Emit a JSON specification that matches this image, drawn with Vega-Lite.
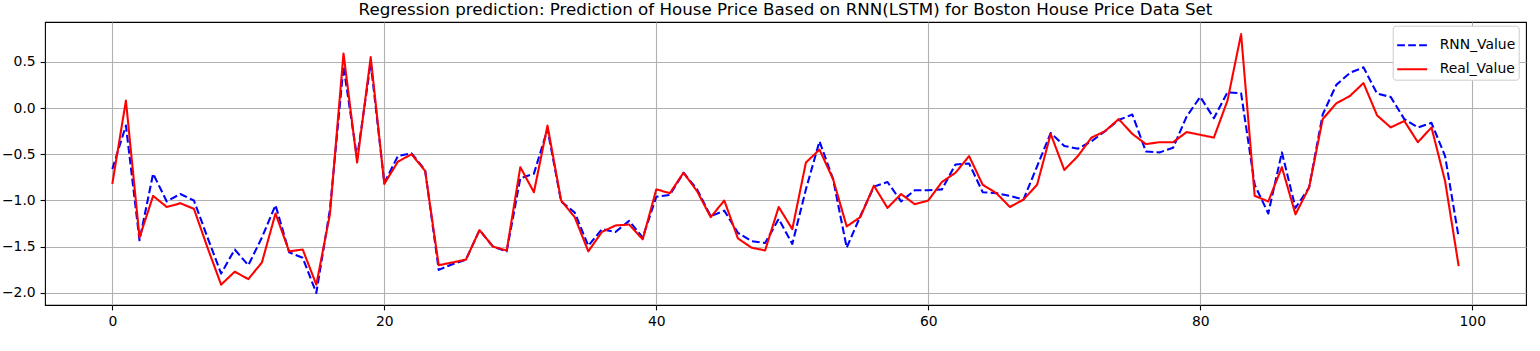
{
  "$schema": "https://vega.github.io/schema/vega-lite/v6.json",
  "autosize": {"type": "none"},
  "padding": {"left": 45, "top": 22, "right": 14, "bottom": 46},
  "width": 1481,
  "height": 283,
  "title": {
    "text": "Regression prediction: Prediction of House Price Based on RNN(LSTM) for Boston House Price Data Set",
    "font": "DejaVu Sans",
    "fontSize": 16.7,
    "fontWeight": "normal",
    "color": "black",
    "anchor": "middle",
    "offset": 3
  },
  "data": {"values": [
    {"i":0,"series":"RNN_Value","value":-0.66},{"i":0,"series":"Real_Value","value":-0.82},
    {"i":1,"series":"RNN_Value","value":-0.19},{"i":1,"series":"Real_Value","value":0.08},
    {"i":2,"series":"RNN_Value","value":-1.43},{"i":2,"series":"Real_Value","value":-1.40},
    {"i":3,"series":"RNN_Value","value":-0.71},{"i":3,"series":"Real_Value","value":-0.95},
    {"i":4,"series":"RNN_Value","value":-1.01},{"i":4,"series":"Real_Value","value":-1.07},
    {"i":5,"series":"RNN_Value","value":-0.93},{"i":5,"series":"Real_Value","value":-1.03},
    {"i":6,"series":"RNN_Value","value":-1.00},{"i":6,"series":"Real_Value","value":-1.09},
    {"i":7,"series":"RNN_Value","value":-1.40},{"i":7,"series":"Real_Value","value":-1.51},
    {"i":8,"series":"RNN_Value","value":-1.79},{"i":8,"series":"Real_Value","value":-1.91},
    {"i":9,"series":"RNN_Value","value":-1.53},{"i":9,"series":"Real_Value","value":-1.77},
    {"i":10,"series":"RNN_Value","value":-1.70},{"i":10,"series":"Real_Value","value":-1.85},
    {"i":11,"series":"RNN_Value","value":-1.40},{"i":11,"series":"Real_Value","value":-1.67},
    {"i":12,"series":"RNN_Value","value":-1.05},{"i":12,"series":"Real_Value","value":-1.14},
    {"i":13,"series":"RNN_Value","value":-1.56},{"i":13,"series":"Real_Value","value":-1.55},
    {"i":14,"series":"RNN_Value","value":-1.62},{"i":14,"series":"Real_Value","value":-1.53},
    {"i":15,"series":"RNN_Value","value":-2.00},{"i":15,"series":"Real_Value","value":-1.91},
    {"i":16,"series":"RNN_Value","value":-1.10},{"i":16,"series":"Real_Value","value":-1.15},
    {"i":17,"series":"RNN_Value","value":0.45},{"i":17,"series":"Real_Value","value":0.59},
    {"i":18,"series":"RNN_Value","value":-0.54},{"i":18,"series":"Real_Value","value":-0.59},
    {"i":19,"series":"RNN_Value","value":0.49},{"i":19,"series":"Real_Value","value":0.55},
    {"i":20,"series":"RNN_Value","value":-0.81},{"i":20,"series":"Real_Value","value":-0.82},
    {"i":21,"series":"RNN_Value","value":-0.52},{"i":21,"series":"Real_Value","value":-0.58},
    {"i":22,"series":"RNN_Value","value":-0.49},{"i":22,"series":"Real_Value","value":-0.50},
    {"i":23,"series":"RNN_Value","value":-0.67},{"i":23,"series":"Real_Value","value":-0.68},
    {"i":24,"series":"RNN_Value","value":-1.75},{"i":24,"series":"Real_Value","value":-1.70},
    {"i":25,"series":"RNN_Value","value":-1.69},{"i":25,"series":"Real_Value","value":-1.67},
    {"i":26,"series":"RNN_Value","value":-1.64},{"i":26,"series":"Real_Value","value":-1.64},
    {"i":27,"series":"RNN_Value","value":-1.32},{"i":27,"series":"Real_Value","value":-1.32},
    {"i":28,"series":"RNN_Value","value":-1.50},{"i":28,"series":"Real_Value","value":-1.50},
    {"i":29,"series":"RNN_Value","value":-1.55},{"i":29,"series":"Real_Value","value":-1.54},
    {"i":30,"series":"RNN_Value","value":-0.76},{"i":30,"series":"Real_Value","value":-0.64},
    {"i":31,"series":"RNN_Value","value":-0.71},{"i":31,"series":"Real_Value","value":-0.91},
    {"i":32,"series":"RNN_Value","value":-0.23},{"i":32,"series":"Real_Value","value":-0.19},
    {"i":33,"series":"RNN_Value","value":-1.01},{"i":33,"series":"Real_Value","value":-1.00},
    {"i":34,"series":"RNN_Value","value":-1.13},{"i":34,"series":"Real_Value","value":-1.18},
    {"i":35,"series":"RNN_Value","value":-1.49},{"i":35,"series":"Real_Value","value":-1.55},
    {"i":36,"series":"RNN_Value","value":-1.31},{"i":36,"series":"Real_Value","value":-1.34},
    {"i":37,"series":"RNN_Value","value":-1.34},{"i":37,"series":"Real_Value","value":-1.27},
    {"i":38,"series":"RNN_Value","value":-1.22},{"i":38,"series":"Real_Value","value":-1.26},
    {"i":39,"series":"RNN_Value","value":-1.40},{"i":39,"series":"Real_Value","value":-1.42},
    {"i":40,"series":"RNN_Value","value":-0.96},{"i":40,"series":"Real_Value","value":-0.88},
    {"i":41,"series":"RNN_Value","value":-0.94},{"i":41,"series":"Real_Value","value":-0.92},
    {"i":42,"series":"RNN_Value","value":-0.70},{"i":42,"series":"Real_Value","value":-0.70},
    {"i":43,"series":"RNN_Value","value":-0.88},{"i":43,"series":"Real_Value","value":-0.90},
    {"i":44,"series":"RNN_Value","value":-1.17},{"i":44,"series":"Real_Value","value":-1.18},
    {"i":45,"series":"RNN_Value","value":-1.11},{"i":45,"series":"Real_Value","value":-1.00},
    {"i":46,"series":"RNN_Value","value":-1.35},{"i":46,"series":"Real_Value","value":-1.41},
    {"i":47,"series":"RNN_Value","value":-1.44},{"i":47,"series":"Real_Value","value":-1.51},
    {"i":48,"series":"RNN_Value","value":-1.46},{"i":48,"series":"Real_Value","value":-1.54},
    {"i":49,"series":"RNN_Value","value":-1.20},{"i":49,"series":"Real_Value","value":-1.07},
    {"i":50,"series":"RNN_Value","value":-1.47},{"i":50,"series":"Real_Value","value":-1.31},
    {"i":51,"series":"RNN_Value","value":-0.88},{"i":51,"series":"Real_Value","value":-0.59},
    {"i":52,"series":"RNN_Value","value":-0.36},{"i":52,"series":"Real_Value","value":-0.45},
    {"i":53,"series":"RNN_Value","value":-0.77},{"i":53,"series":"Real_Value","value":-0.77},
    {"i":54,"series":"RNN_Value","value":-1.51},{"i":54,"series":"Real_Value","value":-1.28},
    {"i":55,"series":"RNN_Value","value":-1.17},{"i":55,"series":"Real_Value","value":-1.18},
    {"i":56,"series":"RNN_Value","value":-0.85},{"i":56,"series":"Real_Value","value":-0.84},
    {"i":57,"series":"RNN_Value","value":-0.80},{"i":57,"series":"Real_Value","value":-1.08},
    {"i":58,"series":"RNN_Value","value":-1.01},{"i":58,"series":"Real_Value","value":-0.93},
    {"i":59,"series":"RNN_Value","value":-0.89},{"i":59,"series":"Real_Value","value":-1.04},
    {"i":60,"series":"RNN_Value","value":-0.89},{"i":60,"series":"Real_Value","value":-1.00},
    {"i":61,"series":"RNN_Value","value":-0.88},{"i":61,"series":"Real_Value","value":-0.80},
    {"i":62,"series":"RNN_Value","value":-0.61},{"i":62,"series":"Real_Value","value":-0.70},
    {"i":63,"series":"RNN_Value","value":-0.60},{"i":63,"series":"Real_Value","value":-0.52},
    {"i":64,"series":"RNN_Value","value":-0.91},{"i":64,"series":"Real_Value","value":-0.83},
    {"i":65,"series":"RNN_Value","value":-0.92},{"i":65,"series":"Real_Value","value":-0.92},
    {"i":66,"series":"RNN_Value","value":-0.95},{"i":66,"series":"Real_Value","value":-1.07},
    {"i":67,"series":"RNN_Value","value":-0.99},{"i":67,"series":"Real_Value","value":-0.99},
    {"i":68,"series":"RNN_Value","value":-0.63},{"i":68,"series":"Real_Value","value":-0.83},
    {"i":69,"series":"RNN_Value","value":-0.27},{"i":69,"series":"Real_Value","value":-0.28},
    {"i":70,"series":"RNN_Value","value":-0.41},{"i":70,"series":"Real_Value","value":-0.67},
    {"i":71,"series":"RNN_Value","value":-0.44},{"i":71,"series":"Real_Value","value":-0.52},
    {"i":72,"series":"RNN_Value","value":-0.36},{"i":72,"series":"Real_Value","value":-0.32},
    {"i":73,"series":"RNN_Value","value":-0.25},{"i":73,"series":"Real_Value","value":-0.25},
    {"i":74,"series":"RNN_Value","value":-0.13},{"i":74,"series":"Real_Value","value":-0.12},
    {"i":75,"series":"RNN_Value","value":-0.07},{"i":75,"series":"Real_Value","value":-0.28},
    {"i":76,"series":"RNN_Value","value":-0.47},{"i":76,"series":"Real_Value","value":-0.39},
    {"i":77,"series":"RNN_Value","value":-0.48},{"i":77,"series":"Real_Value","value":-0.37},
    {"i":78,"series":"RNN_Value","value":-0.43},{"i":78,"series":"Real_Value","value":-0.37},
    {"i":79,"series":"RNN_Value","value":-0.09},{"i":79,"series":"Real_Value","value":-0.26},
    {"i":80,"series":"RNN_Value","value":0.12},{"i":80,"series":"Real_Value","value":-0.29},
    {"i":81,"series":"RNN_Value","value":-0.11},{"i":81,"series":"Real_Value","value":-0.32},
    {"i":82,"series":"RNN_Value","value":0.17},{"i":82,"series":"Real_Value","value":0.08},
    {"i":83,"series":"RNN_Value","value":0.16},{"i":83,"series":"Real_Value","value":0.80},
    {"i":84,"series":"RNN_Value","value":-0.83},{"i":84,"series":"Real_Value","value":-0.95},
    {"i":85,"series":"RNN_Value","value":-1.14},{"i":85,"series":"Real_Value","value":-1.01},
    {"i":86,"series":"RNN_Value","value":-0.48},{"i":86,"series":"Real_Value","value":-0.64},
    {"i":87,"series":"RNN_Value","value":-1.08},{"i":87,"series":"Real_Value","value":-1.15},
    {"i":88,"series":"RNN_Value","value":-0.86},{"i":88,"series":"Real_Value","value":-0.86},
    {"i":89,"series":"RNN_Value","value":-0.07},{"i":89,"series":"Real_Value","value":-0.12},
    {"i":90,"series":"RNN_Value","value":0.25},{"i":90,"series":"Real_Value","value":0.05},
    {"i":91,"series":"RNN_Value","value":0.38},{"i":91,"series":"Real_Value","value":0.13},
    {"i":92,"series":"RNN_Value","value":0.44},{"i":92,"series":"Real_Value","value":0.27},
    {"i":93,"series":"RNN_Value","value":0.155},{"i":93,"series":"Real_Value","value":-0.08},
    {"i":94,"series":"RNN_Value","value":0.12},{"i":94,"series":"Real_Value","value":-0.21},
    {"i":95,"series":"RNN_Value","value":-0.12},{"i":95,"series":"Real_Value","value":-0.14},
    {"i":96,"series":"RNN_Value","value":-0.21},{"i":96,"series":"Real_Value","value":-0.37},
    {"i":97,"series":"RNN_Value","value":-0.16},{"i":97,"series":"Real_Value","value":-0.21},
    {"i":98,"series":"RNN_Value","value":-0.52},{"i":98,"series":"Real_Value","value":-0.79},
    {"i":99,"series":"RNN_Value","value":-1.40},{"i":99,"series":"Real_Value","value":-1.71}
  ]},
  "mark": {"type": "line", "strokeWidth": 2.08, "strokeJoin": "round", "clip": true},
  "encoding": {
    "x": {
      "field": "i", "type": "quantitative",
      "scale": {"domain": [-4.95, 103.95], "nice": false, "zero": false},
      "axis": {"values": [0, 20, 40, 60, 80, 100], "title": null, "format": "d"}
    },
    "y": {
      "field": "value", "type": "quantitative",
      "scale": {"domain": [-2.13, 0.93], "nice": false, "zero": false},
      "axis": {"values": [-2, -1.5, -1, -0.5, 0, 0.5], "title": null, "format": ".1f"}
    },
    "color": {
      "field": "series", "type": "nominal",
      "scale": {"domain": ["RNN_Value", "Real_Value"], "range": ["blue", "red"]},
      "legend": {
        "title": null,
        "orient": "none",
        "legendX": 1347.7,
        "legendY": 3.7,
        "symbolType": "stroke",
        "symbolSize": 900,
        "symbolStrokeWidth": 2.08,
        "labelFont": "DejaVu Sans",
        "labelFontSize": 13.9,
        "labelColor": "black",
        "labelOffset": 11,
        "rowPadding": -3.4,
        "fillColor": "white",
        "strokeColor": "#cccccc",
        "cornerRadius": 3,
        "padding": 3
      }
    },
    "strokeDash": {
      "field": "series", "type": "nominal",
      "scale": {"domain": ["RNN_Value", "Real_Value"], "range": [[7.7, 3.3], [1, 0]]},
      "legend": {
        "title": null,
        "orient": "none",
        "legendX": 1347.7,
        "legendY": 3.7,
        "symbolType": "stroke",
        "symbolSize": 900,
        "symbolStrokeWidth": 2.08,
        "labelFont": "DejaVu Sans",
        "labelFontSize": 13.9,
        "labelColor": "black",
        "labelOffset": 11,
        "rowPadding": -3.4,
        "fillColor": "white",
        "strokeColor": "#cccccc",
        "cornerRadius": 3,
        "padding": 3
      }
    },
    "order": {"field": "series", "sort": "ascending"}
  },
  "config": {
    "background": "white",
    "view": {"stroke": "black", "strokeWidth": 1.1},
    "axis": {
      "grid": true,
      "gridColor": "#b0b0b0",
      "gridWidth": 1.1,
      "domain": false,
      "tickColor": "black",
      "tickWidth": 1.1,
      "tickSize": 4.9,
      "labelFont": "DejaVu Sans",
      "labelFontSize": 13.9,
      "labelColor": "black",
      "labelPadding": 4.9
    }
  }
}
